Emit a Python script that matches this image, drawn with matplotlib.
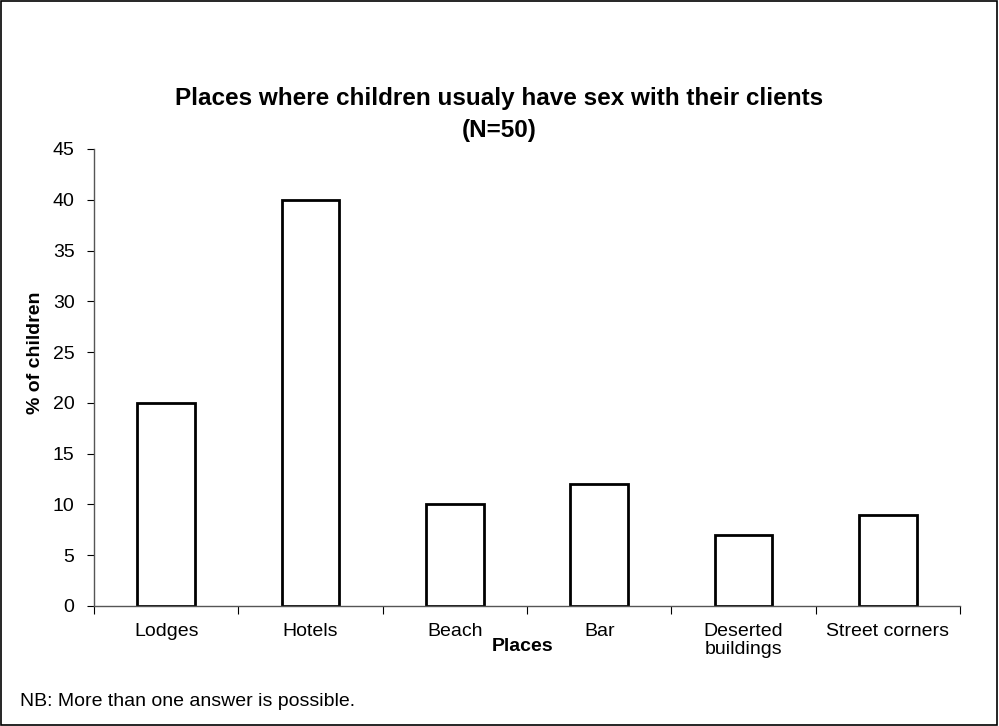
import numpy as np
import matplotlib.pyplot as plt
from matplotlib.patches import Rectangle

plt.rcParams['font.family'] = ['Liberation Sans', 'DejaVu Sans']

# Daten
places = ['Lodges', 'Hotels', 'Beach', 'Bar', 'Deserted\nbuildings', 'Street corners']
percent = [20, 40, 10, 12, 7, 9]
y_ticks = list(range(0, 50, 5))

fig = plt.figure(figsize=(9.99, 7.26), dpi=100)
ax = fig.add_axes([0.0941, 0.1653, 0.8669, 0.6295])

x = np.arange(len(places))
ax.bar(x, percent, width=0.4, color='white', edgecolor='black', linewidth=2)

ax.set_xlim(-0.5, len(places) - 0.5)
ax.set_ylim(0, 45)
ax.set_yticks(y_ticks)
ax.tick_params(axis='y', direction='out', length=5, width=0.8, labelsize=14, pad=9)

# Kategorie-Beschriftungen ohne Striche, Striche an den Grenzen
ax.set_xticks(x)
ax.set_xticklabels(places, fontsize=14, va='top', linespacing=1.1)
ax.tick_params(axis='x', which='major', length=0, pad=12)
ax.set_xticks(np.arange(-0.5, len(places)), minor=True)
ax.tick_params(axis='x', which='minor', direction='out', length=6, width=0.8)

for s in ['top', 'right']:
    ax.spines[s].set_visible(False)
for s in ['left', 'bottom']:
    ax.spines[s].set_color('#555555')
    ax.spines[s].set_linewidth(1)

ax.set_ylabel('% of children', fontsize=14, fontweight='bold', va='center')
ax.yaxis.set_label_coords(-0.068, 0.555)
ax.set_xlabel('Places', fontsize=14, fontweight='bold')
ax.xaxis.set_label_coords(0.495, -0.07)

fig.text(0.5, 1 - 98 / 726, 'Places where children usualy have sex with their clients',
         ha='center', va='center', fontsize=17.5, fontweight='bold')
fig.text(0.5, 1 - 131 / 726, '(N=50)',
         ha='center', va='center', fontsize=17.5, fontweight='bold')
fig.text(0.02, 1 - 701 / 726, 'NB: More than one answer is possible.', fontsize=14, ha='left', va='center')

# Rahmen um die ganze Grafik
fig.patches.append(Rectangle((0.001, 0.001), 0.997, 0.997, transform=fig.transFigure,
                             fill=False, edgecolor='black', linewidth=1.2))

fig.savefig('out.png', dpi=100)
